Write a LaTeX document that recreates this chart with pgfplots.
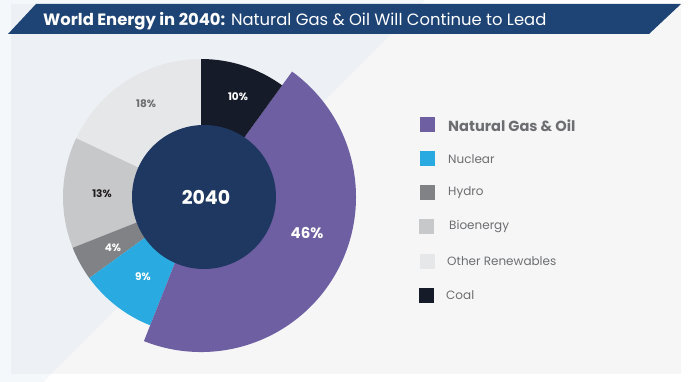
\documentclass[border=0pt]{standalone}
\usepackage{pgfplots}
\usepackage{pgfplotstable}
\pgfplotsset{compat=1.18}
\usepackage{fontspec}
\setmainfont{Poppins}
\definecolor{bannerc}{HTML}{1E4375}
\definecolor{innerc}{HTML}{1F3862}
\definecolor{gasc}{HTML}{6E5EA2}
\definecolor{nuclearc}{HTML}{29ABE2}
\definecolor{hydroc}{HTML}{808285}
\definecolor{bioc}{HTML}{C7C8C9}
\definecolor{otherc}{HTML}{E6E7E8}
\definecolor{coalc}{HTML}{161B29}
\definecolor{panelc}{HTML}{F6F6F6}
\definecolor{bandc}{HTML}{EDF1F5}
\definecolor{outerc}{HTML}{F4F8FB}
\definecolor{lblgray}{HTML}{6D6E71}
\definecolor{lbldark}{HTML}{231F20}
\definecolor{legtext}{HTML}{6D6E71}

% shares in 2040, counter-clockwise from 12 o'clock
\pgfplotstableread[col sep=comma]{
value,radius,color,lx,ly,lcol,lsize
18,138,otherc,-55,93,lblgray,10.5
13,138,bioc,-99,3,lbldark,10.5
4,138,hydroc,-88,-51,white,10.5
9,138,nuclearc,-58,-80,white,10.5
46,155,gasc,106,-36,white,15
10,138,coalc,37,100,white,10.5
}\shares

\begin{document}
\begin{tikzpicture}
% background
\fill[white] (0,0) rectangle (689bp,382bp);
\fill[outerc] (0,0) -- (43bp,0) -- (425bp,382bp) -- (0,382bp) -- cycle;
\fill[panelc] (11bp,8bp) rectangle (681bp,378bp);
\fill[bandc] (11bp,8bp) -- (51bp,8bp) -- (421bp,378bp) -- (11bp,378bp) -- cycle;
% banner
\fill[bannerc] (36bp,378bp) -- (681bp,378bp) -- (649bp,348bp) -- (8bp,348bp) -- cycle;
\node[anchor=base west, inner sep=0pt, text=white] at (43bp,356.3bp)
  {\fontsize{16.4bp}{19bp}\selectfont\textbf{World Energy in 2040:} Natural Gas \& Oil Will Continue to Lead};

\begin{axis}[
  x=1bp, y=1bp, xmin=0, xmax=689, ymin=0, ymax=382,
  anchor=origin, at={(0,0)}, hide axis, clip=false]
\def\cx{201}
\def\cy{185}
\pgfplotstablegetrowsof{\shares}
\pgfmathtruncatemacro{\nrows}{\pgfplotsretval-1}
\def\startang{90}
\pgfplotsforeachungrouped \i in {0,...,\nrows}{%
  \pgfplotstablegetelem{\i}{value}\of\shares \let\val\pgfplotsretval
  \pgfplotstablegetelem{\i}{radius}\of\shares \let\rad\pgfplotsretval
  \pgfplotstablegetelem{\i}{color}\of\shares \let\col\pgfplotsretval
  \pgfmathsetmacro{\endang}{\startang+3.6*\val}
  \pgfmathsetmacro{\sx}{\cx+\rad*cos(\startang)}
  \pgfmathsetmacro{\sy}{\cy+\rad*sin(\startang)}
  \edef\mywedge{\noexpand\fill[fill=\col] (axis cs:\cx,\cy) -- (axis cs:\sx,\sy) arc[start angle=\startang, end angle=\endang, radius=\rad bp] -- cycle;}%
  \mywedge
  \let\startang\endang
}
% hole
\fill[innerc] (axis cs:204,185) circle[radius=72bp];
\node[text=white, font=\bfseries\fontsize{19bp}{22bp}\selectfont] at (axis cs:206,185) {2040};
% percentage labels
\pgfplotsforeachungrouped \i in {0,...,\nrows}{%
  \pgfplotstablegetelem{\i}{value}\of\shares \let\val\pgfplotsretval
  \pgfplotstablegetelem{\i}{lx}\of\shares \let\lx\pgfplotsretval
  \pgfplotstablegetelem{\i}{ly}\of\shares \let\ly\pgfplotsretval
  \pgfplotstablegetelem{\i}{lcol}\of\shares \let\lc\pgfplotsretval
  \pgfplotstablegetelem{\i}{lsize}\of\shares \let\ls\pgfplotsretval
  \pgfmathsetmacro{\px}{\cx+\lx}
  \pgfmathsetmacro{\py}{\cy+\ly}
  \edef\mylabel{\noexpand\node[text=\lc, inner sep=0pt] at (axis cs:\px,\py) {\noexpand\fontsize{\ls bp}{\ls bp}\noexpand\selectfont\noexpand\bfseries \val\noexpand\%};}%
  \mylabel
}
\end{axis}

% legend
\begin{scope}[every node/.style={anchor=base west, inner sep=0pt, text=legtext}]
\fill[gasc] (420bp,{(382-132)*1bp}) rectangle (435bp,{(382-117)*1bp});
\node at (448bp,{(382-131)*1bp}) {\fontsize{14.6bp}{16bp}\selectfont\bfseries Natural Gas \& Oil};
\fill[nuclearc] (420bp,{(382-166)*1bp}) rectangle (435bp,{(382-151)*1bp});
\node at (448bp,{(382-163.3)*1bp}) {\fontsize{12bp}{14bp}\selectfont Nuclear};
\fill[hydroc] (420bp,{(382-200)*1bp}) rectangle (435bp,{(382-185)*1bp});
\node at (448bp,{(382-195.7)*1bp}) {\fontsize{12bp}{14bp}\selectfont Hydro};
\fill[bioc] (419bp,{(382-234)*1bp}) rectangle (434bp,{(382-219)*1bp});
\node at (449bp,{(382-229.3)*1bp}) {\fontsize{12bp}{14bp}\selectfont Bioenergy};
\fill[otherc] (420bp,{(382-269)*1bp}) rectangle (435bp,{(382-254)*1bp});
\node at (447bp,{(382-265)*1bp}) {\fontsize{12bp}{14bp}\selectfont Other Renewables};
\fill[coalc] (419bp,{(382-303)*1bp}) rectangle (434bp,{(382-288)*1bp});
\node at (446bp,{(382-299)*1bp}) {\fontsize{12bp}{14bp}\selectfont Coal};
\end{scope}

\pgfresetboundingbox
\path[use as bounding box] (0,0) rectangle (689bp,382bp);
\end{tikzpicture}
\end{document}
